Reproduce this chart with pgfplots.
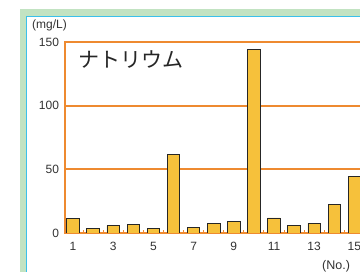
\documentclass[border=0pt]{standalone}
\usepackage{pgfplots}
\pgfplotsset{compat=1.18}
\usepackage{fontspec}
\setmainfont{Liberation Sans}
\newfontfamily\jp{Noto Sans CJK JP}
\definecolor{frameg}{HTML}{C2E3C2}
\definecolor{framec}{HTML}{3BC0EA}
\definecolor{gridor}{HTML}{EE8A30}
\definecolor{barfill}{HTML}{F6C13B}
\definecolor{txt}{HTML}{333333}
\begin{document}
\begin{tikzpicture}[x=1pt,y=1pt]
\fill[white] (0,0) rectangle (360,272);
\fill[frameg] (20,0) rectangle (360,263);
\fill[white] (26,0) rectangle (360,256);
\draw[framec, line width=1.3pt] (26.6,0) -- (26.6,255.4) -- (360,255.4);
\begin{axis}[
  at={(65pt,39pt)}, anchor=south west,
  scale only axis, width=297pt, height=191pt,
  xmin=0.6, xmax=15.38, ymin=0, ymax=150,
  axis line style={gridor, line width=1.2pt},
  ytick={0,50,100,150},
  xtick={1,3,5,7,9,11,13,15},
  minor xtick={1.5,2.5,3.5,4.5,5.5,6.5,7.5,8.5,9.5,10.5,11.5,12.5,13.5,14.5},
  minor tick length=2.5pt,
  minor tick style={gridor, line width=1pt},
  major tick length=0pt,
  tick pos=left,
  /pgf/number format/assume math mode=true,
  tick label style={font=\fontsize{12}{13}\selectfont, text=txt},
  yticklabel style={xshift=-2.5pt},
  xticklabel style={yshift=-6pt},
]
\addplot[draw=gridor, line width=2pt, mark=none, forget plot] coordinates {(0.5,50) (16,50)};
\addplot[draw=gridor, line width=2pt, mark=none, forget plot] coordinates {(0.5,100) (16,100)};
\addplot[ybar, bar width=12.5pt, fill=barfill, draw=black!85, line width=0.8pt]
coordinates {(1,11.5) (2,3.7) (3,5.7) (4,6.5) (5,3.7) (6,61.8) (7,4.7) (8,7.6) (9,9.4) (10,144.4) (11,11.8) (12,5.7) (13,7.6) (14,22.5) (15,44.2)};
\end{axis}
\node[anchor=west, inner sep=0pt, font=\jp\fontsize{21}{22}\selectfont, text=black!85] at (78,212) {ナトリウム};
\node[anchor=west, inner sep=0pt, font=\fontsize{12}{13}\selectfont, text=txt] at (32,247) {(mg/L)};
\node[anchor=west, inner sep=0pt, font=\fontsize{12.5}{13}\selectfont, text=txt] at (322,6) {(No.)};
\pgfresetboundingbox
\useasboundingbox (0,0) rectangle (360,272);
\end{tikzpicture}
\end{document}
